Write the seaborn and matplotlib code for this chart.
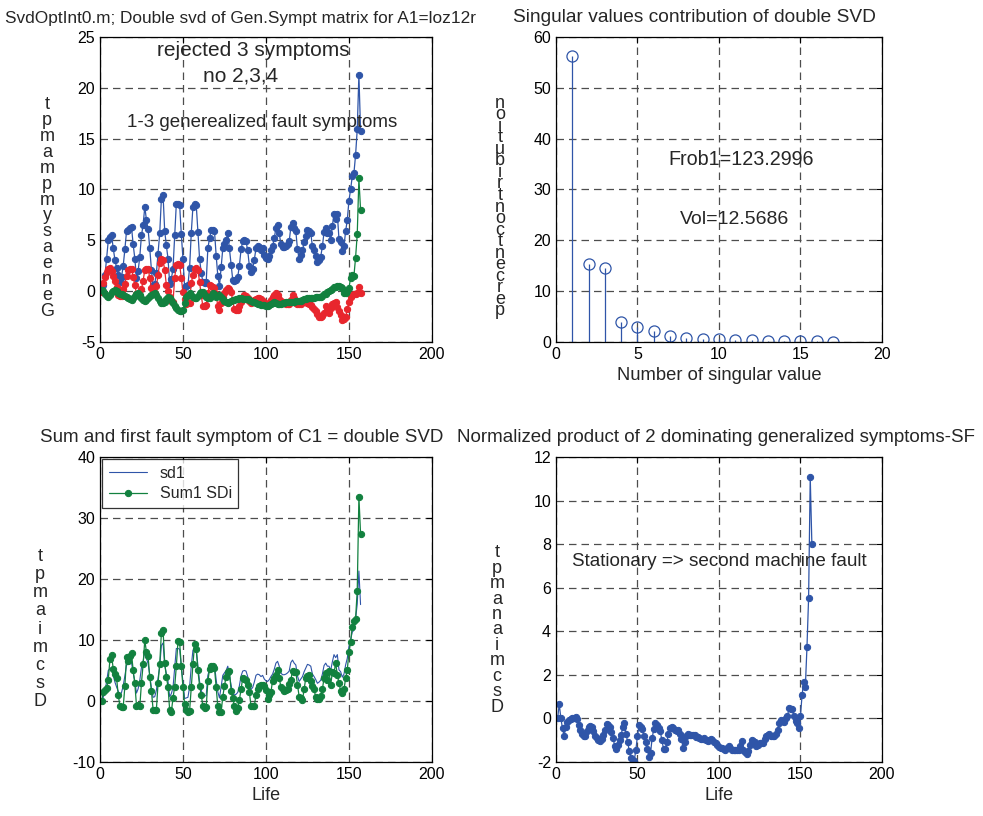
import numpy as np
import pandas as pd
import seaborn as sns
import matplotlib
matplotlib.use("Agg")
import matplotlib.pyplot as plt

# ---- data ----
life = list(range(1, 158))

# first generalized symptom (also plotted as sd1)
sympt1 = [0.3, 0.6, 1.6, 3.2, 5.0, 5.3, 5.5, 4.2, 3.1, 2.3,
          1.6, 0.9, 1.4, 2.5, 4.1, 5.9, 6.0, 6.2, 6.3, 4.6,
          3.2, 1.3, 2.0, 3.4, 5.5, 6.5, 8.3, 7.0, 6.1, 4.2,
          2.1, 0.6, 0.7, 1.8, 3.7, 5.7, 9.1, 9.5, 5.9, 4.5,
          3.2, 0.7, 1.2, 2.2, 5.5, 8.6, 8.6, 8.5, 5.6, 3.2,
          0.4, 0.5, 0.6, 2.3, 5.7, 8.3, 8.6, 8.5, 5.8, 3.2,
          1.8, 0.9, 0.8, 0.9, 4.2, 5.2, 6.0, 6.0, 5.9, 3.5,
          1.5, 0.5, 2.4, 4.2, 4.6, 5.0, 5.7, 4.2, 2.6, 1.1,
          1.0, 1.1, 1.4, 2.5, 4.1, 4.9, 5.0, 4.9, 4.0, 2.5,
          1.9, 2.2, 3.1, 4.2, 4.4, 4.3, 4.0, 4.2, 3.6, 3.3,
          3.2, 3.5, 4.0, 4.4, 5.2, 6.2, 6.5, 5.7, 4.6, 4.3,
          4.3, 4.4, 4.6, 4.9, 6.3, 6.7, 6.2, 5.9, 4.1, 3.2,
          3.6, 4.0, 4.8, 5.4, 6.0, 5.9, 5.7, 4.4, 4.0, 3.5,
          2.9, 3.1, 3.4, 4.4, 5.8, 6.2, 5.7, 5.7, 5.0, 6.4,
          7.6, 7.1, 7.6, 5.1, 4.8, 3.9, 4.4, 5.9, 7.0, 8.9,
          10.0, 11.3, 11.6, 13.4, 15.9, 21.3, 15.8]

sympt2 = [-0.1, 0.8, 1.4, 1.9, 2.2, 2.3, 2.0, 1.5, 1.0, 0.4,
          -0.4, -0.5, -0.5, 0.2, 0.7, 1.5, 2.1, 2.2, 2.2, 1.4,
          0.6, -0.3, -0.4, -0.5, 0.2, 1.0, 2.1, 2.2, 2.2, 1.3,
          0.3, -0.1, -0.2, 0.5, 1.6, 2.8, 3.2, 3.1, 2.1, 0.6,
          0.0, -0.6, -1.0, -1.1, 1.3, 2.6, 2.7, 2.6, 1.3, -0.1,
          -0.8, -1.3, -1.2, -1.2, 0.8, 1.6, 2.2, 2.3, 2.1, 0.9,
          -0.4, -1.5, -1.5, -1.4, -0.2, 0.6, 0.5, 0.4, 0.3, -0.3,
          -1.5, -1.9, -1.2, -0.6, -0.2, 0.1, 0.3, 0.2, -0.1, -0.9,
          -1.8, -1.9, -1.9, -1.5, -1.1, -0.7, -0.4, -0.5, -0.7, -1.0,
          -1.2, -1.1, -0.9, -0.8, -0.7, -0.7, -0.8, -1.0, -1.1, -1.3,
          -1.4, -1.2, -0.9, -0.6, -0.4, -0.2, -0.4, -0.8, -1.0, -1.1,
          -1.2, -1.3, -1.3, -1.3, -0.9, -0.4, -0.7, -1.2, -1.3, -1.3,
          -1.3, -1.1, -0.9, -1.0, -1.2, -1.3, -1.4, -1.6, -1.8, -2.0,
          -2.2, -2.5, -2.5, -2.4, -2.1, -1.5, -1.9, -2.1, -1.7, -1.3,
          -1.2, -1.1, -1.6, -2.0, -2.3, -2.8, -2.7, -2.5, -1.8, -1.1,
          -0.6, -0.4, -0.3, -0.3, -0.2, 0.4, -0.2]

sympt3 = [0.1, 0.0, -0.3, -0.5, -0.6, -0.4, -0.1, 0.0, 0.1, 0.0,
          -0.2, -0.3, -0.3, -0.4, -0.5, -0.6, -0.7, -0.8, -0.9, -0.7,
          -0.5, -0.3, -0.2, -0.4, -0.7, -0.9, -1.0, -0.9, -0.7, -0.5,
          -0.4, -0.3, -0.2, -0.4, -0.7, -1.0, -1.2, -1.2, -1.1, -0.8,
          -0.6, -0.7, -0.9, -1.2, -1.5, -1.7, -1.9, -2.0, -2.0, -1.9,
          -1.2, -0.6, -0.4, -0.2, -0.4, -0.6, -0.7, -0.7, -0.5, -0.2,
          -0.1, -0.1, -0.4, -0.6, -0.7, -0.7, -0.5, -0.2, -0.3, -0.6,
          -0.5, -0.4, -0.6, -0.8, -1.0, -1.1, -1.2, -1.1, -1.0, -0.9,
          -0.9, -0.8, -0.8, -0.7, -0.7, -0.8, -0.8, -0.8, -0.8, -0.9,
          -1.0, -1.1, -1.1, -1.2, -1.3, -1.3, -1.4, -1.4, -1.4, -1.5,
          -1.5, -1.4, -1.3, -1.2, -1.1, -1.2, -1.3, -1.3, -1.3, -1.2,
          -1.2, -1.1, -1.1, -1.1, -1.1, -1.1, -1.1, -1.0, -1.0, -1.0,
          -1.0, -0.9, -0.8, -0.8, -0.7, -0.7, -0.7, -0.7, -0.7, -0.6,
          -0.6, -0.6, -0.6, -0.5, -0.3, -0.3, -0.1, 0.0, 0.1, 0.2,
          0.4, 0.4, 0.5, 0.5, 0.4, 0.3, -0.2, -0.2, 0.0, 0.3,
          1.3, 1.6, 1.5, 3.3, 5.6, 11.1, 8.0]

sum1_sdi = [0.0, 1.4, 1.8, 2.1, 3.5, 6.8, 7.5, 5.2, 4.5, 3.8,
            1.0, -0.8, -1.0, -1.0, 2.4, 7.2, 6.5, 7.3, 7.8, 5.0,
            2.9, -0.8, -0.7, -0.9, 3.0, 6.0, 10.0, 8.0, 7.3, 3.9,
            1.7, -1.4, -1.4, -1.4, 3.0, 6.0, 11.2, 11.7, 6.2, 4.0,
            2.3, -1.5, -1.8, 0.5, 2.3, 5.7, 9.8, 9.6, 5.7, 2.3,
            -0.5, -1.5, -1.8, -1.6, 2.3, 6.0, 9.3, 8.5, 5.0, 2.5,
            1.0, -0.8, -1.2, -1.0, 3.2, 5.2, 5.7, 5.7, 5.4, 2.3,
            -0.9, -1.8, -1.8, 0.7, 2.5, 4.0, 4.7, 4.9, 1.7, 0.5,
            -0.8, -1.6, -1.2, 0.2, 1.9, 3.8, 3.6, 3.5, 2.7, 1.5,
            -0.9, -0.8, -0.8, 1.0, 2.0, 2.5, 2.7, 2.6, 2.5, 1.8,
            0.4, 0.9, 1.5, 3.3, 3.8, 4.3, 5.0, 3.8, 2.3, 1.9,
            1.7, 1.8, 1.9, 2.8, 3.5, 4.9, 4.7, 4.7, 2.7, 0.7,
            0.5, 0.2, 1.9, 3.8, 4.1, 4.3, 3.2, 2.5, 1.9, 0.6,
            0.4, 0.3, 0.8, 1.9, 3.8, 4.6, 3.5, 4.9, 2.6, 4.7,
            4.6, 6.2, 4.3, 2.9, 1.7, 1.3, 1.9, 3.7, 5.1, 8.0,
            9.7, 12.1, 13.1, 13.5, 18.1, 33.5, 27.4]

norm_product = [0.0, 0.66, 0.0, -0.46, -0.81, -0.38, -0.15, -0.08, -0.05, 0.0,
                0.02, 0.05, -0.05, -0.3, -0.55, -0.72, -0.8, -0.81, -0.6, -0.4,
                -0.35, -0.38, -0.6, -0.8, -0.92, -1.0, -1.02, -0.96, -0.75, -0.55,
                -0.26, -0.3, -0.4, -0.61, -0.9, -1.25, -1.42, -1.2, -1.0, -0.75,
                -0.4, -0.23, -0.7, -1.1, -1.5, -1.8, -1.91, -1.94, -1.45, -0.8,
                -0.31, -0.4, -0.5, -0.8, -1.1, -1.4, -1.76, -1.6, -0.9, -0.5,
                -0.2, -0.3, -0.46, -0.6, -1.0, -1.4, -1.4, -1.1, -0.7, -0.45,
                -0.38, -0.46, -0.55, -0.57, -0.54, -0.7, -0.95, -1.38, -1.1, -0.8,
                -0.72, -0.74, -0.76, -0.76, -0.78, -0.85, -0.87, -0.92, -0.96, -0.94,
                -0.92, -0.98, -1.02, -0.98, -0.96, -1.0, -1.07, -1.15, -1.22, -1.31,
                -1.35, -1.38, -1.42, -1.46, -1.35, -1.28, -1.38, -1.46, -1.44, -1.43,
                -1.43, -1.43, -1.25, -1.03, -1.46, -1.55, -1.62, -1.49, -1.2, -0.97,
                -1.02, -1.08, -1.28, -1.2, -1.15, -1.14, -1.12, -0.95, -0.82, -0.74,
                -0.72, -0.8, -0.82, -0.82, -0.7, -0.51, -0.2, -0.08, -0.12, -0.15,
                0.0, 0.11, 0.46, 0.44, 0.42, 0.1, -0.1, -0.23, -0.46, 0.11,
                1.08, 1.69, 1.46, 3.28, 5.54, 11.08, 8.0]

sv_number = list(range(1, 18))
sv_contrib = [56.3, 15.3, 14.5, 4.0, 2.9, 2.2, 1.1, 0.8, 0.6, 0.5,
              0.3, 0.3, 0.25, 0.2, 0.15, 0.1, 0.05]

BLUE = "#2f55a8"
RED = "#e8262d"
GREEN = "#12813f"

sns.set_style("white")
plt.rcParams["font.family"] = ["Liberation Sans", "DejaVu Sans"]
plt.rcParams["font.size"] = 11
plt.rcParams["axes.unicode_minus"] = False


def matlab_axes(ax, xlim, xticks, ylim, yticks):
    ax.set_xlim(*xlim)
    ax.set_ylim(*ylim)
    ax.set_xticks(xticks)
    ax.set_yticks(yticks)
    ax.grid(True, color="0.3", linestyle=(0, (6, 4)), linewidth=0.9)
    ax.tick_params(direction="in", top=True, right=True, labelsize=11.5,
                   length=4, colors="black")
    for s in ax.spines.values():
        s.set_color("black")
        s.set_linewidth(0.9)
    ax.set_xlabel("")
    ax.set_ylabel("")


def stacked_label(fig, text, x_px, y_mid_px, spacing):
    # MATLAB export stacked the rotated label letter by letter
    fig.text(x_px / 983, 1 - y_mid_px / 816, "\n".join(text), ha="center",
             va="center", ma="center", fontsize=13, linespacing=spacing)


def fig_title(fig, x_px, y_px, text, size):
    fig.text(x_px / 983, 1 - y_px / 816, text, ha="left", va="center", fontsize=size)


fig = plt.figure(figsize=(9.83, 8.16), dpi=100)
ax1 = fig.add_axes([0.1017, 0.5809, 0.3377, 0.3738])
ax2 = fig.add_axes([0.5656, 0.5809, 0.3316, 0.3738])
ax3 = fig.add_axes([0.1017, 0.0662, 0.3377, 0.3738])
ax4 = fig.add_axes([0.5656, 0.0662, 0.3316, 0.3738])

# ---- top left: three generalized symptoms ----
df1 = pd.DataFrame({"life": life, "s1": sympt1, "s2": sympt2, "s3": sympt3})
for col, c in [("s1", BLUE), ("s2", RED), ("s3", GREEN)]:
    sns.lineplot(data=df1, x="life", y=col, ax=ax1, color=c, marker="o",
                 markersize=4.5, markeredgecolor=c, linewidth=0.9)
matlab_axes(ax1, (0, 200), range(0, 201, 50), (-5, 25), range(-5, 26, 5))
ax1.text(92.5, 23.7, "rejected 3 symptoms", ha="center", va="center", fontsize=15)
ax1.text(85, 21.2, "no 2,3,4", ha="center", va="center", fontsize=15)
ax1.text(16.3, 16.6, "1-3 generealized fault symptoms", ha="left", va="center", fontsize=13.5)

# ---- top right: singular value contribution ----
ml, sl, bl = ax2.stem(sv_number, sv_contrib, basefmt=" ")
plt.setp(sl, color=BLUE, linewidth=0.9)
plt.setp(ml, markerfacecolor="none", markeredgecolor=BLUE, markersize=8, markeredgewidth=0.9)
matlab_axes(ax2, (0, 20), range(0, 21, 5), (0, 60), range(0, 61, 10))
ax2.set_xlabel("Number of singular value", fontsize=13.2)
ax2.text(6.9, 35.8, "Frob1=123.2996", ha="left", va="center", fontsize=14.2)
ax2.text(7.6, 24.0, "Vol=12.5686", ha="left", va="center", fontsize=14)

# ---- bottom left: sd1 and sum of symptoms ----
df3 = pd.DataFrame({"life": life, "sd1": sympt1, "sum1": sum1_sdi})
sns.lineplot(data=df3, x="life", y="sd1", ax=ax3, color=BLUE, linewidth=0.8, label="sd1")
sns.lineplot(data=df3, x="life", y="sum1", ax=ax3, color=GREEN, marker="o",
             markersize=4.5, markeredgecolor=GREEN, linewidth=0.9, label="Sum1 SDi")
matlab_axes(ax3, (0, 200), range(0, 201, 50), (-10, 40), range(-10, 41, 10))
ax3.set_xlabel("Life", fontsize=13)
leg = ax3.legend(loc="upper left", frameon=True, fancybox=False, edgecolor="black",
                 fontsize=11.5, borderaxespad=0.15, handlelength=2.4, labelspacing=0.35)
leg.get_frame().set_linewidth(0.9)

# ---- bottom right: normalized product ----
df4 = pd.DataFrame({"life": life, "prod": norm_product})
sns.lineplot(data=df4, x="life", y="prod", ax=ax4, color=BLUE, marker="o",
             markersize=4.5, markeredgecolor=BLUE, linewidth=0.9)
matlab_axes(ax4, (0, 200), range(0, 201, 50), (-2, 12), range(-2, 13, 2))
ax4.set_xlabel("Life", fontsize=13)
ax4.text(9.8, 7.2, "Stationary => second machine fault", ha="left", va="center", fontsize=13.6)

# ---- titles ----
fig_title(fig, 5, 18, "SvdOptInt0.m; Double svd of Gen.Sympt matrix for A1=loz12r", 12.4)
fig_title(fig, 513, 18, "Singular values contribution of double SVD", 13.8)
fig_title(fig, 40, 437, "Sum and first fault symptom of C1 = double SVD", 13.5)
fig_title(fig, 457, 437, "Normalized product of 2 dominating generalized symptoms-SF", 13.5)

# ---- garbled stacked y labels ----
stacked_label(fig, "tpmampmysaeneG", 47, 208, 0.92)
stacked_label(fig, "noitubirtnoctnecrep", 500, 207, 0.58)
stacked_label(fig, "tpmaimcsD", 40, 629, 1.08)
stacked_label(fig, "tpmanaimcsD", 497, 630, 0.88)

fig.savefig("out.png", dpi=100)
